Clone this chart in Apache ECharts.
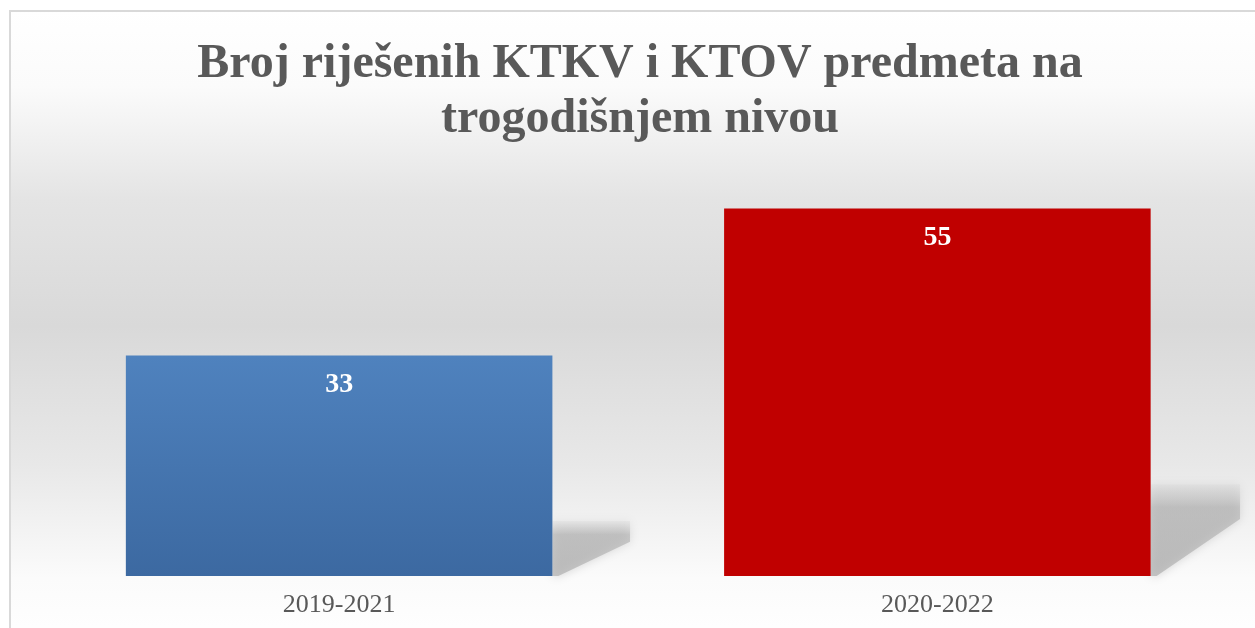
<!DOCTYPE html>
<html>
<head>
<meta charset="utf-8">
<script src="https://cdn.jsdelivr.net/npm/echarts@6/dist/echarts.min.js"></script>
<style>
html,body{margin:0;padding:0;background:#fff;}
#main{width:1255px;height:628px;}
</style>
</head>
<body>
<div id="main"></div>
<script>
const titleText = 'Broj riješenih KTKV i KTOV predmeta na\ntrogodišnjem nivou';
const categories = ['2019-2021', '2020-2022'];
const values = [33, 55];
const barColors = [
  ['#4f82be', '#3c69a1'],
  ['#c00000', '#c00000']
];

const chart = echarts.init(document.getElementById('main'), null, {renderer: 'canvas'});

const option = {
  backgroundColor: '#ffffff',
  animation: false,
  graphic: [{
    type: 'rect',
    z: -10,
    silent: true,
    shape: {x: 10, y: 11, width: 1260, height: 630},
    style: {
      fill: new echarts.graphic.LinearGradient(0, 0, 0, 1, [
        {offset: 0, color: '#ffffff'},
        {offset: 0.12, color: '#fbfbfb'},
        {offset: 0.3, color: '#e4e4e4'},
        {offset: 0.5, color: '#d9d9d9'},
        {offset: 0.72, color: '#e8e8e8'},
        {offset: 0.9, color: '#fbfbfb'},
        {offset: 1, color: '#ffffff'}
      ]),
      stroke: '#d9d9d9',
      lineWidth: 2
    }
  }],
  title: {
    text: titleText,
    left: 635,
    textAlign: 'center',
    top: 32,
    textStyle: {
      fontFamily: 'Liberation Serif',
      fontWeight: 'bold',
      fontSize: 48,
      lineHeight: 55,
      color: '#595959'
    }
  },
  grid: {left: 40, right: 18.5, top: 175.2, bottom: 52},
  xAxis: {
    type: 'category',
    data: categories,
    axisLine: {show: false},
    axisTick: {show: false},
    axisLabel: {
      margin: 16,
      fontFamily: 'Liberation Serif',
      fontSize: 26,
      color: '#595959'
    }
  },
  yAxis: {
    type: 'value',
    min: 0,
    max: 60,
    show: false,
    splitLine: {show: false}
  },
  series: [
    {
      type: 'custom',
      z: 1,
      silent: true,
      data: values.map((v, i) => [i, v]),
      renderItem: function (params, api) {
        const idx = api.value(0);
        const v = api.value(1);
        const top = api.coord([idx, v]);
        const base = api.coord([idx, 0]);
        const band = api.size([1, 0])[0];
        const right = base[0] + band * 0.713 / 2;
        const barH = base[1] - top[1];
        const H = barH * 0.25;
        const W = 60 + barH * 0.08;
        const yb = base[1];
        return {
          type: 'polygon',
          shape: {
            points: [
              [right, yb - H],
              [right + W, yb - H],
              [right + W, yb - H * 0.62],
              [right + 6, yb],
              [right, yb]
            ]
          },
          style: {
            fill: new echarts.graphic.LinearGradient(0, 0, 0, 1, [
              {offset: 0, color: 'rgba(215,215,215,0.3)'},
              {offset: 0.25, color: 'rgba(170,170,170,0.55)'},
              {offset: 1, color: 'rgba(175,175,175,0.7)'}
            ]),
            shadowBlur: 10,
            shadowColor: 'rgba(160,160,160,0.6)'
          }
        };
      }
    },
    {
      type: 'bar',
      z: 2,
      barWidth: '71.3%',
      data: values.map((v, i) => ({
        value: v,
        itemStyle: {
          color: new echarts.graphic.LinearGradient(0, 0, 0, 1, [
            {offset: 0, color: barColors[i][0]},
            {offset: 1, color: barColors[i][1]}
          ])
        }
      })),
      label: {
        show: true,
        position: 'insideTop',
        distance: 15,
        fontFamily: 'Liberation Serif',
        fontWeight: 'bold',
        fontSize: 28,
        color: '#ffffff'
      }
    }
  ]
};

chart.setOption(option);
</script>
</body>
</html>
